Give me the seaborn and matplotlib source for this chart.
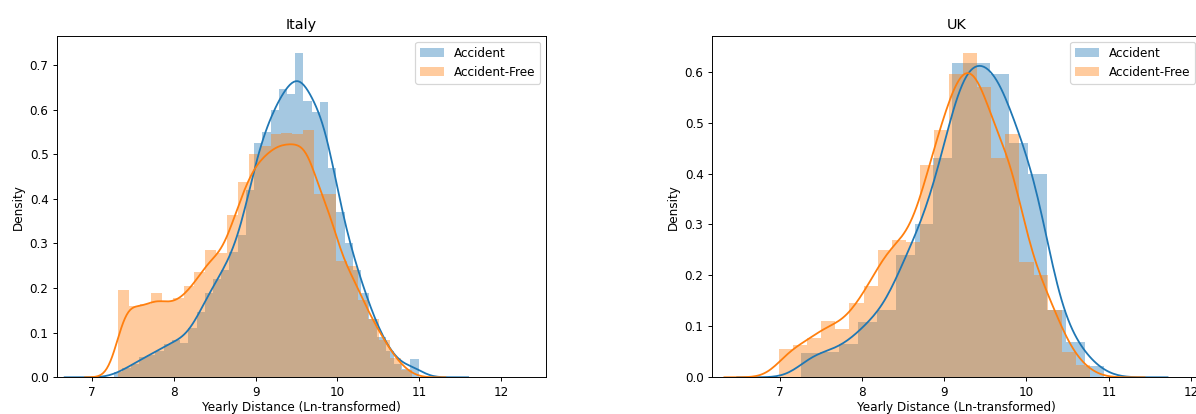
import numpy as np
import pandas as pd
import matplotlib
matplotlib.use("Agg")
import matplotlib.pyplot as plt
import seaborn as sns

# ---------------- data ----------------
series_labels = ["Accident", "Accident-Free"]

# Italy - Accident (blue): 37 bins starting 7.27, width ~0.1006
italy_acc_start, italy_acc_width = 7.27, 0.1006
italy_acc_heights = [0.012, 0.02, 0.03, 0.045, 0.05, 0.06, 0.075, 0.084, 0.078, 0.11,
                     0.147, 0.188, 0.22, 0.24, 0.28, 0.32, 0.42, 0.525, 0.55, 0.60,
                     0.646, 0.635, 0.727, 0.62, 0.594, 0.616, 0.47, 0.37, 0.30, 0.24,
                     0.19, 0.13, 0.09, 0.06, 0.03, 0.018, 0.04]

# Italy - Accident-Free (orange): 27 bins starting 7.32, width ~0.133
italy_free_start, italy_free_width = 7.32, 0.133
italy_free_heights = [0.196, 0.160, 0.165, 0.19, 0.17, 0.177, 0.204, 0.237, 0.286, 0.278,
                      0.364, 0.438, 0.50, 0.518, 0.545, 0.547, 0.545, 0.555, 0.41, 0.41,
                      0.26, 0.25, 0.174, 0.13, 0.084, 0.043, 0.016]

# UK - Accident (blue): 16 bins starting 7.26, width 0.23
uk_acc_start, uk_acc_width = 7.26, 0.23
uk_acc_heights = [0.048, 0.05, 0.065, 0.108, 0.132, 0.24, 0.30, 0.43, 0.617, 0.617,
                  0.595, 0.46, 0.40, 0.133, 0.07, 0.022]

# UK - Accident-Free (orange): 22 bins starting 6.99, width 0.172
uk_free_start, uk_free_width = 6.99, 0.172
uk_free_heights = [0.055, 0.063, 0.078, 0.11, 0.095, 0.146, 0.18, 0.25, 0.27, 0.265,
                   0.416, 0.485, 0.596, 0.637, 0.57, 0.43, 0.477, 0.227, 0.20, 0.133,
                   0.05, 0.025]

titles = ["Italy", "UK"]
xlabel = "Yearly Distance (Ln-transformed)"
ylabel = "Density"

# ---------------- figure ----------------
DPI = 86.4
fig = plt.figure(figsize=(1196 / DPI, 414 / DPI), dpi=DPI)
W, H = 1196, 414
ax_w = 489 / W
ax_b = (414 - 377.3) / H
ax_h = (377.3 - 36) / H
ax1 = fig.add_axes([57 / W, ax_b, ax_w, ax_h])
ax2 = fig.add_axes([712 / W, ax_b, ax_w, ax_h])

colors = ["#1f77b4", "#ff7f0e"]


def draw(ax, groups, bws, title, xlim):
    for (start, width, heights), label, color, bw in zip(groups, series_labels, colors, bws):
        h = np.asarray(heights, dtype=float)
        n = len(h)
        centers = start + width * (np.arange(n) + 0.5)
        df = pd.DataFrame({"x": centers, "w": h})
        sns.histplot(data=df, x="x", weights="w", binwidth=width,
                     binrange=(start, start + width * n), stat="count",
                     color=color, alpha=0.4, linewidth=0, label=label, ax=ax)
        std = np.sqrt(np.cov(centers, aweights=h))
        sns.kdeplot(data=df, x="x", weights="w", bw_method=bw / std, color=color,
                    linewidth=1.5, ax=ax)
    ax.set_xlim(*xlim)
    ax.set_title(title)
    ax.set_xlabel(xlabel, labelpad=2)
    ax.set_ylabel(ylabel)
    ax.legend(loc="upper right")


draw(ax1,
     [(italy_acc_start, italy_acc_width, italy_acc_heights),
      (italy_free_start, italy_free_width, italy_free_heights)],
     [0.13, 0.12], titles[0], (6.57, 12.55))
ax1.set_ylim(0, 0.765)

draw(ax2,
     [(uk_acc_start, uk_acc_width, uk_acc_heights),
      (uk_free_start, uk_free_width, uk_free_heights)],
     [0.19, 0.17], titles[1], (6.18, 12.12))
ax2.set_ylim(0, 0.67)

fig.savefig("out.png", dpi=DPI)
